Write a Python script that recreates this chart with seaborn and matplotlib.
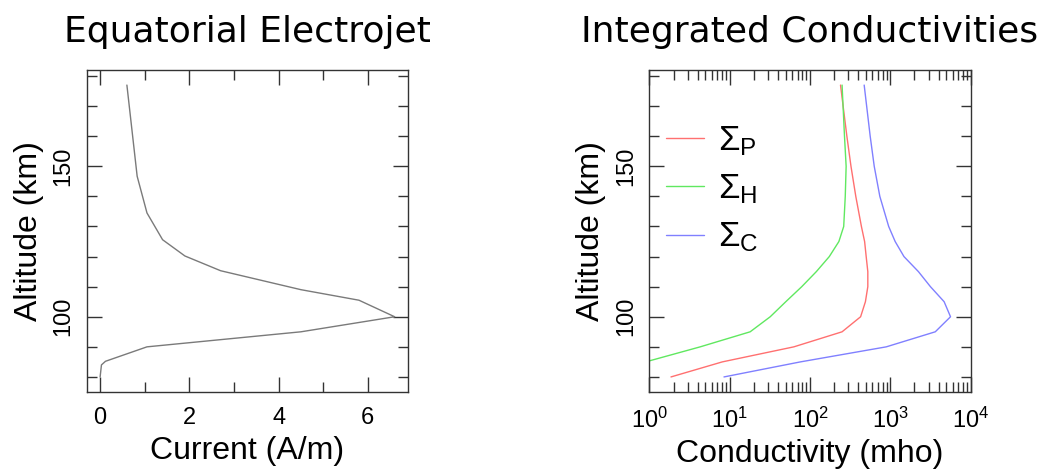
import numpy as np
import pandas as pd
import matplotlib
matplotlib.use("Agg")
import matplotlib.pyplot as plt
import matplotlib.ticker as mticker
import seaborn as sns

# Equatorial electrojet current profile
jet_alt = [80, 84, 85.2, 90, 95, 100, 105.5, 109, 115.3, 120.2, 125.6, 134.5, 146.7, 177]
jet_current = [0.0, 0.03, 0.12, 1.05, 4.5, 6.6, 5.8, 4.5, 2.7, 1.9, 1.4, 1.05, 0.83, 0.6]

# Integrated conductivities (mho)
cond_alt = [80, 85, 90, 95, 100, 105, 110, 115, 120, 125, 130, 140, 150, 160, 177]
sigma_p = [1.86, 8.1, 63, 251, 427, 490, 525, 525, 501, 479, 437, 372, 324, 288, 240]
sigma_h = [0.9, 0.9, 4.3, 18, 32, 50, 79, 120, 174, 229, 263, 275, 282, 269, 251]
sigma_c = [8.5, 76, 891, 3630, 5620, 4680, 3160, 2240, 1480, 1150, 955, 741, 631, 562, 473]
sigma_h_alt = [85.6] + cond_alt[1:]

sns.set_style("white")
plt.rcParams['font.family'] = ['Liberation Sans', 'DejaVu Sans']
plt.rcParams['mathtext.fontset'] = 'custom'
plt.rcParams['mathtext.rm'] = 'Liberation Sans'
plt.rcParams['mathtext.it'] = 'Liberation Sans'
plt.rcParams['mathtext.bf'] = 'Liberation Sans'
plt.rcParams['text.color'] = 'black'
plt.rcParams['axes.labelcolor'] = 'black'
plt.rcParams['xtick.color'] = 'black'
plt.rcParams['ytick.color'] = 'black'

fig = plt.figure(figsize=(10.5, 4.7), dpi=100)
ax1 = fig.add_axes([0.0826, 0.166, 0.306, 0.685])
ax2 = fig.add_axes([0.6184, 0.166, 0.306, 0.685])

sns.lineplot(x=jet_current, y=jet_alt, sort=False, estimator=None,
             color='#7a7a7a', lw=1.0, ax=ax1)

cond = pd.concat([
    pd.DataFrame({'alt': cond_alt, 'val': sigma_p, 'name': r'$\Sigma_\mathrm{P}$'}),
    pd.DataFrame({'alt': sigma_h_alt, 'val': sigma_h, 'name': r'$\Sigma_\mathrm{H}$'}),
    pd.DataFrame({'alt': cond_alt, 'val': sigma_c, 'name': r'$\Sigma_\mathrm{C}$'}),
])
palette = ['#ff7070', '#60e860', '#8080ff']
sns.lineplot(data=cond, x='val', y='alt', hue='name', sort=False, estimator=None,
             palette=palette, lw=1.0, ax=ax2)
ax2.set_xscale('log')

ax1.set_xlim(-0.3, 6.9)
ax2.set_xlim(1, 1e4)
for ax in (ax1, ax2):
    ax.set_ylim(75, 182)
    ax.yaxis.set_major_locator(mticker.FixedLocator([100, 150]))
    ax.yaxis.set_minor_locator(mticker.MultipleLocator(10))
    ax.tick_params(which='both', direction='in', top=True, right=True,
                   bottom=True, left=True, color='#333333', width=1.0)
    ax.tick_params(which='major', length=11)
    ax.tick_params(which='minor', length=7)
    ax.tick_params(axis='x', labelsize=17, pad=11)
    ax.tick_params(axis='y', labelsize=17, pad=9, labelrotation=90)
    for lab in ax.get_yticklabels():
        lab.set_va('center')
    for s in ax.spines.values():
        s.set_color('#333333')
        s.set_linewidth(1.0)
    ax.set_ylabel('Altitude (km)', fontsize=23, labelpad=6)

ax1.xaxis.set_major_locator(mticker.FixedLocator([0, 2, 4, 6]))
ax1.xaxis.set_minor_locator(mticker.FixedLocator([1, 3, 5]))
ax2.xaxis.set_major_locator(mticker.LogLocator(base=10, numticks=10))
ax2.xaxis.set_minor_locator(mticker.LogLocator(base=10, subs=np.arange(2, 10), numticks=20))
ax2.xaxis.set_minor_formatter(mticker.NullFormatter())

ax1.set_xlabel('Current (A/m)', fontsize=23, labelpad=5)
ax2.set_xlabel('Conductivity (mho)', fontsize=23, labelpad=5)
ax1.set_title('Equatorial Electrojet', fontsize=26, pad=20, family='DejaVu Sans')
ax2.set_title('Integrated Conductivities', fontsize=26, pad=20, family='DejaVu Sans')

ax2.legend(loc='upper left', bbox_to_anchor=(0.008, 0.875), frameon=False,
           fontsize=25, handlelength=1.1, handletextpad=0.4, labelspacing=0.42,
           borderaxespad=0.0)

fig.savefig('out.png', dpi=100)
